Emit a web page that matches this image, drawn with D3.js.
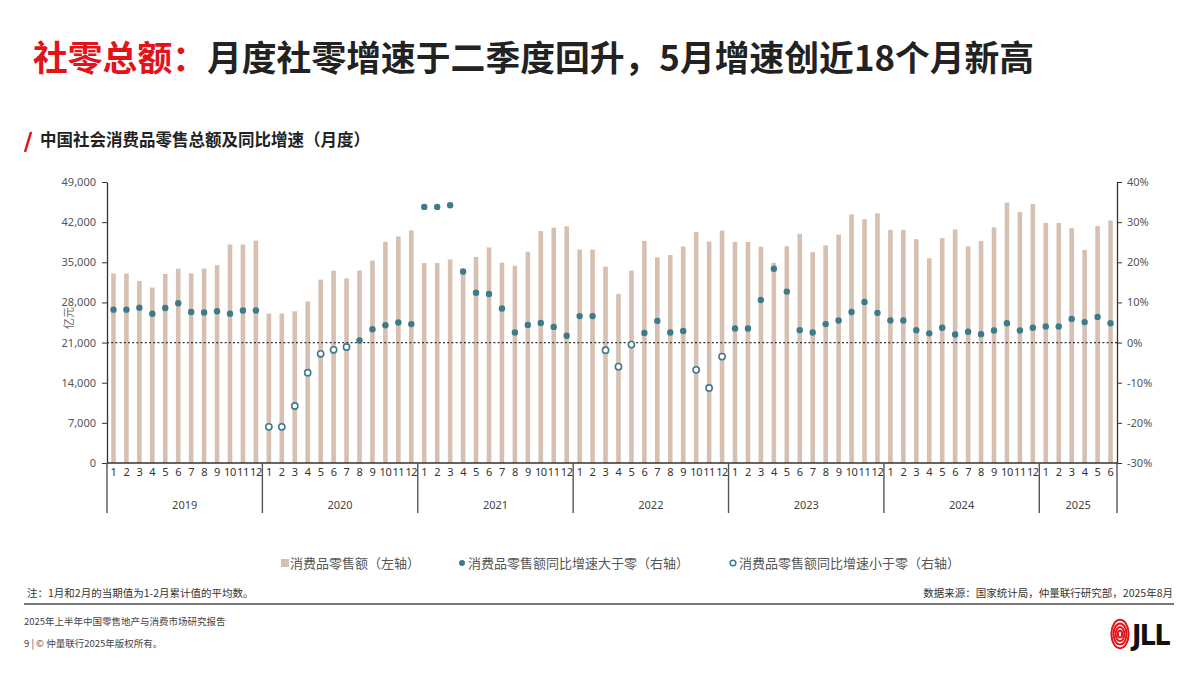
<!DOCTYPE html>
<html><head><meta charset="utf-8">
<script src="https://cdn.jsdelivr.net/npm/d3@7"></script>
<style>
body{margin:0;background:#fff;}
svg{display:block;}
text{font-family:"Noto Sans CJK SC","Noto Sans",sans-serif;}
</style>
</head><body>
<svg id="c" width="1200" height="675"></svg>
<script>
// ---------- DATA ----------
const years = ["2019","2020","2021","2022","2023","2024","2025"];
const monthLabels = ["1","2","3","4","5","6","7","8","9","10","11","12"];

// 消费品零售额（亿元）, 1-2月为累计平均
const sales2019 = [33032,33032,31726,30586,32956,33878,33073,33896,34495,38104,38094,38777];
const sales2020 = [26065,26065,26450,28178,31973,33526,32203,33571,35295,38576,39514,40566];
const sales2021 = [34869,34869,35484,33153,35945,37586,34925,34395,36833,40454,41043,41269];
const sales2022 = [37213,37213,34233,29483,33547,38742,35870,36258,37745,40271,38615,40542];
const sales2023 = [38534,38534,37715,34910,37803,39951,36761,37933,39826,43333,42505,43550];
const sales2024 = [40654,40654,39020,35699,39211,40732,37757,38726,41112,45396,43763,45172];
const sales2025 = [41866,41866,40940,37174,41326,42287];

// 同比增速（%）
const growth2019 = [8.2,8.2,8.7,7.2,8.6,9.8,7.6,7.5,7.8,7.2,8.0,8.0];
const growth2020 = [-21.0,-21.0,-15.8,-7.5,-2.8,-1.8,-1.1,0.5,3.3,4.3,5.0,4.6];
const growth2021 = [33.8,33.8,34.2,17.7,12.4,12.1,8.5,2.5,4.4,4.9,3.9,1.7];
const growth2022 = [6.6,6.6,-1.9,-6.0,-0.5,2.4,5.4,2.5,2.9,-6.8,-11.3,-3.5];
const growth2023 = [3.5,3.5,10.6,18.4,12.7,3.1,2.5,4.6,5.5,7.6,10.1,7.4];
const growth2024 = [5.5,5.5,3.1,2.3,3.7,2.0,2.7,2.1,3.0,4.8,3.0,3.7];
const growth2025 = [4.0,4.0,5.9,5.1,6.4,4.8];

const leftTicks = [0,7000,14000,21000,28000,35000,42000,49000];
const rightTicks = [-30,-20,-10,0,10,20,30,40];

const salesByYear = [sales2019,sales2020,sales2021,sales2022,sales2023,sales2024,sales2025];
const growthByYear = [growth2019,growth2020,growth2021,growth2022,growth2023,growth2024,growth2025];

const data = [];
years.forEach((y,i)=>{
  salesByYear[i].forEach((v,j)=>{
    data.push({key:y+"-"+(j+1), year:y, month:monthLabels[j], sales:v, growth:growthByYear[i][j]});
  });
});

// ---------- STYLE ----------
const RED = "#e3131b", BAR = "#d5c0b1", TEAL = "#3d7a8a", DARK = "#222";

const svg = d3.select("#c");
svg.append("rect").attr("width",1200).attr("height",675).attr("fill","#fff");

// Title
const t = svg.append("text").attr("x",33).attr("y",71).attr("font-size",34.8).attr("font-weight",700);
t.append("tspan").attr("fill",RED).text("社零总额：");
t.append("tspan").attr("fill",DARK).text("月度社零增速于二季度回升，5月增速创近18个月新高");

// Subtitle
svg.append("line").attr("x1",25).attr("y1",152).attr("x2",31).attr("y2",132)
  .attr("stroke",RED).attr("stroke-width",2.5);
svg.append("text").attr("x",40).attr("y",146).attr("font-size",16.5).attr("font-weight",700)
  .attr("fill",DARK).text("中国社会消费品零售总额及同比增速（月度）");

// Scales
const L = 107, R = 1117, T = 182, B = 463;
const x = d3.scaleBand().domain(data.map(d=>d.key)).range([L,R]).padding(0);
const yL = d3.scaleLinear().domain([0,49000]).range([B,T]);
const yR = d3.scaleLinear().domain([-30,40]).range([B,T]);
const bw = x.bandwidth();
const barW = 4.6;

// Bars
svg.append("g").selectAll("rect").data(data).join("rect")
  .attr("x",d=>x(d.key)+bw/2-barW/2).attr("width",barW)
  .attr("y",d=>yL(d.sales)).attr("height",d=>yL(0)-yL(d.sales))
  .attr("fill",BAR);

// Zero dotted line
svg.append("line").attr("x1",L).attr("x2",R).attr("y1",yR(0)).attr("y2",yR(0))
  .attr("stroke","#333").attr("stroke-width",1.3).attr("stroke-dasharray","2,2.2");

// Dots
svg.append("g").selectAll("circle").data(data).join("circle")
  .attr("cx",d=>x(d.key)+bw/2).attr("cy",d=>yR(d.growth))
  .attr("r",d=>d.growth>=0?3.2:3.1)
  .attr("fill",d=>d.growth>=0?TEAL:"#fff")
  .attr("stroke",TEAL).attr("stroke-width",d=>d.growth>=0?0:1.6);

// Left axis
const gl = svg.append("g").attr("transform",`translate(${L},0)`)
  .call(d3.axisLeft(yL).tickValues(leftTicks).tickSize(5).tickSizeOuter(0).tickFormat(d3.format(",")));
gl.select(".domain").attr("stroke","#333").attr("stroke-width",1.3);
gl.selectAll(".tick line").attr("stroke","#333");
gl.selectAll(".tick text").attr("font-size",11).attr("fill","#555").attr("x",-11)
  .style("font-family","'Noto Sans',sans-serif");

// Right axis
const gr = svg.append("g").attr("transform",`translate(${R},0)`)
  .call(d3.axisRight(yR).tickValues(rightTicks).tickSize(5).tickSizeOuter(0).tickFormat(d=>d+"%"));
gr.select(".domain").attr("stroke","#333").attr("stroke-width",1.3);
gr.selectAll(".tick line").attr("stroke","#333");
gr.selectAll(".tick text").attr("font-size",11).attr("fill","#555").attr("x",10)
  .style("font-family","'Noto Sans',sans-serif");

// Y unit label
svg.append("text").attr("transform","translate(73,318) rotate(-90)").attr("text-anchor","middle")
  .attr("font-size",11).attr("fill","#666").text("亿元");

// X axis (months)
const gx = svg.append("g").attr("transform",`translate(0,${B})`)
  .call(d3.axisBottom(x).tickSize(0).tickFormat(k=>data.find(d=>d.key===k).month));
gx.select(".domain").remove();
gx.selectAll(".tick text").attr("font-size",11).attr("fill","#333").attr("dy","0.95em")
  .attr("letter-spacing",-0.4).style("font-family","'Noto Sans',sans-serif");
svg.append("line").attr("x1",L).attr("x2",R).attr("y1",B).attr("y2",B)
  .attr("stroke","#333").attr("stroke-width",1.4);

// Year separators & labels
const yearStart = years.map((y,i)=>data.findIndex(d=>d.year===y));
const boundaries = yearStart.map(i=>x(data[i].key)).concat([R]);
svg.append("g").selectAll("line").data(boundaries).join("line")
  .attr("x1",d=>d).attr("x2",d=>d).attr("y1",B).attr("y2",513)
  .attr("stroke","#555").attr("stroke-width",1.4);
svg.append("g").selectAll("text").data(years).join("text")
  .attr("x",(d,i)=>(boundaries[i]+boundaries[i+1])/2).attr("y",509)
  .attr("text-anchor","middle").attr("font-size",11).attr("fill","#444")
  .style("font-family","'Noto Sans',sans-serif").text(d=>d);

// Legend
const lg = svg.append("g").attr("font-size",13).attr("fill","#555");
lg.append("rect").attr("x",281).attr("y",559).attr("width",8).attr("height",8).attr("fill",BAR);
lg.append("text").attr("x",290).attr("y",567.5).attr("fill","#555").text("消费品零售额（左轴）");
lg.append("circle").attr("cx",462).attr("cy",563).attr("r",3).attr("fill",TEAL);
lg.append("text").attr("x",468).attr("y",567.5).attr("fill","#555").text("消费品零售额同比增速大于零（右轴）");
lg.append("circle").attr("cx",733).attr("cy",563).attr("r",2.8).attr("fill","#fff").attr("stroke",TEAL).attr("stroke-width",1.5);
lg.append("text").attr("x",739).attr("y",567.5).attr("fill","#555").text("消费品零售额同比增速小于零（右轴）");

// Notes
svg.append("text").attr("x",27).attr("y",597).attr("font-size",10.5).attr("fill","#333")
  .text("注：1月和2月的当期值为1-2月累计值的平均数。");
svg.append("text").attr("x",1173).attr("y",597).attr("text-anchor","end").attr("font-size",10.5).attr("fill","#333")
  .text("数据来源：国家统计局，仲量联行研究部，2025年8月");
svg.append("line").attr("x1",24).attr("x2",1174).attr("y1",604).attr("y2",604)
  .attr("stroke","#777").attr("stroke-width",2);

// Footer
svg.append("text").attr("x",24).attr("y",625).attr("font-size",9.5).attr("fill","#444")
  .text("2025年上半年中国零售地产与消费市场研究报告");
svg.append("text").attr("x",24).attr("y",647).attr("font-size",9.5).attr("fill","#444")
  .text("9 | © 仲量联行2025年版权所有。");

// JLL logo
const logo = svg.append("g");
[12,9,6,3].forEach(r=>{
  logo.append("ellipse").attr("cx",1120).attr("cy",634).attr("rx",r*0.72).attr("ry",r*1.18)
    .attr("fill","none").attr("stroke",RED).attr("stroke-width",2);
});
logo.append("text").attr("x",1132).attr("y",645).attr("font-size",28).attr("font-weight",700)
  .attr("fill","#111").attr("letter-spacing",-1.5).style("font-family","'Liberation Sans Narrow','DejaVu Sans Condensed',sans-serif")
  .text("JLL");
</script>
</body></html>
